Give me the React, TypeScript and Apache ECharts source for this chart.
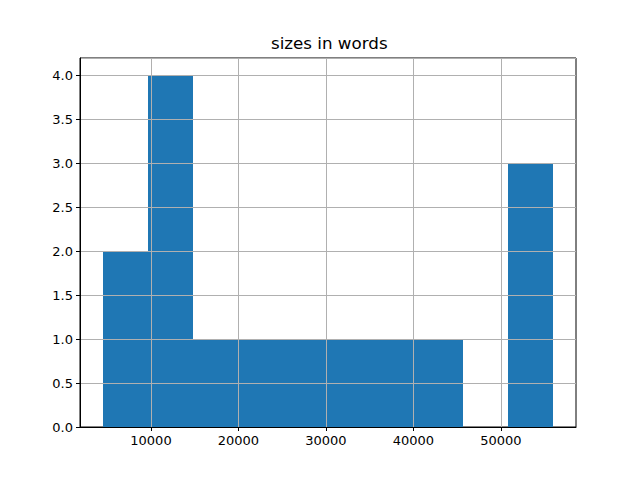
import React, { useEffect, useRef } from "react";
import * as echarts from "echarts";

const title = "sizes in words";
const binEdges = [4464, 9618, 14772, 19926, 25080, 30234, 35388, 40542, 45696, 50850, 56005];
const counts = [2, 4, 1, 1, 1, 1, 1, 1, 0, 3];
const xTicks = [10000, 20000, 30000, 40000, 50000];
const xMin = 1887;
const xMax = 58582;
const yMax = 4.2;

export default function App() {
  const ref = useRef<HTMLDivElement>(null);
  useEffect(() => {
    if (!ref.current) return;
    const chart = echarts.init(ref.current, undefined, { renderer: "svg" });
    const data = counts.map((c, i) => [binEdges[i], binEdges[i + 1], c]);
    const font = "DejaVu Sans";
    chart.setOption({
      animation: false,
      title: {
        text: title,
        left: 266,
        top: 29,
        textStyle: { fontFamily: font, fontSize: 16.7, fontWeight: "normal", color: "#000" },
      },
      grid: {
        left: 80,
        right: 64,
        top: 58,
        bottom: 53,
        show: true,
        borderColor: "#000",
        borderWidth: 1,
        backgroundColor: "transparent",
        z: 0,
      },
      xAxis: {
        type: "value",
        min: xMin,
        max: xMax,
        z: 5,
        axisLine: { show: true, lineStyle: { color: "#000", width: 1 } },
        axisTick: { show: true, length: 4, lineStyle: { color: "#000" }, customValues: xTicks },
        axisLabel: {
          customValues: xTicks,
          color: "#000",
          fontFamily: font,
          fontSize: 13,
          margin: 7,
          formatter: (v: number) => String(v),
        },
        splitLine: { show: true, lineStyle: { color: "#b0b0b0", width: 1 } },
      },
      yAxis: {
        type: "value",
        min: 0,
        max: yMax,
        interval: 0.5,
        z: 5,
        axisLine: { show: true, lineStyle: { color: "#000", width: 1 } },
        axisTick: { show: true, length: 4, lineStyle: { color: "#000" } },
        axisLabel: {
          color: "#000",
          fontFamily: font,
          fontSize: 13,
          margin: 7,
          formatter: (v: number) => v.toFixed(1),
          showMaxLabel: false,
        },
        splitLine: { show: true, lineStyle: { color: "#b0b0b0", width: 1 } },
      },
      series: [
        {
          type: "custom",
          z: 1,
          data,
          encode: { x: [0, 1], y: 2 },
          renderItem: (params: any, api: any) => {
            const x0 = api.value(0);
            const x1 = api.value(1);
            const c = api.value(2);
            const p0 = api.coord([x0, c]);
            const p1 = api.coord([x1, 0]);
            const l = Math.round(p0[0]);
            const r = Math.round(p1[0]);
            const t = Math.round(p0[1]);
            const b = Math.round(p1[1]);
            return {
              type: "rect",
              shape: { x: l, y: t, width: r - l, height: b - t },
              style: { fill: "#1f77b4" },
            };
          },
        },
      ],
    });
    return () => chart.dispose();
  }, []);
  return <div ref={ref} style={{ width: 640, height: 480, position: "absolute", left: 0, top: 0 }} />;
}
